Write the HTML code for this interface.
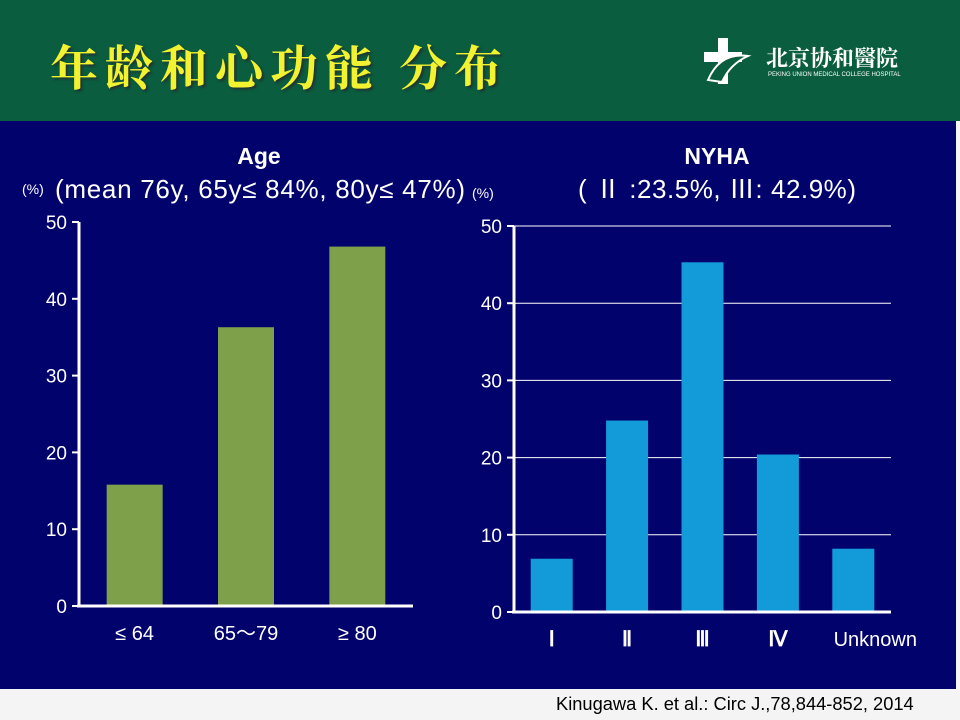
<!DOCTYPE html>
<html><head><meta charset="utf-8"><style>
body{margin:0;width:960px;height:720px;overflow:hidden;background:#f4f4f4;font-family:"Liberation Sans","Noto Sans CJK SC",sans-serif}
#hdr{position:absolute;left:0;top:0;width:960px;height:121px;background:#0a5d3f}
#title{position:absolute;left:50px;top:30px;font-family:"Noto Serif CJK SC","Noto Sans CJK SC",sans-serif;font-size:48px;font-weight:bold;color:#f2f230;letter-spacing:7px;text-shadow:2px 2px 2px #233}
#logo{position:absolute;left:700px;top:36px;color:#fff}
#main{position:absolute;left:0;top:121px;width:956px;height:568px;background:#02026c}
#cite{position:absolute;left:556px;top:693px;font-size:18.3px;color:#000}
</style></head><body>
<div id="hdr">
<div id="title">年龄和心功能 分布</div>
<div id="logo">
<svg width="60" height="50" style="position:absolute;left:0;top:0"><path d="M18 2h10v14h14v10H28v22H18V26H4V16h14z" fill="#fff"/><path d="M8 44 Q20 16 48 20 Q30 28 22 46z" fill="#0a5d3f" stroke="#fff" stroke-width="2"/></svg>
<div style="position:absolute;left:66px;top:6px;font-size:22px;font-weight:bold;white-space:nowrap;font-family:'Noto Serif CJK SC',serif">北京协和醫院</div>
<div style="position:absolute;left:68px;top:36px;font-size:6px;white-space:nowrap">PEKING UNION MEDICAL COLLEGE HOSPITAL</div>
</div></div>
<div id="main"></div>
<svg id="chart" width="960" height="720" style="position:absolute;left:0;top:0" font-family="Liberation Sans, Noto Sans CJK SC, sans-serif">
<text x="259" y="164" fill="#fff" font-size="23" font-weight="bold" text-anchor="middle">Age</text>
<text x="22" y="194" fill="#fff" font-size="14">(%)</text>
<text x="55" y="198" fill="#fff" font-size="26" textLength="410">(mean 76y, 65y≤ 84%, 80y≤ 47%)</text>
<text x="717" y="164" fill="#fff" font-size="23" font-weight="bold" text-anchor="middle">NYHA</text>
<text x="472" y="198" fill="#fff" font-size="14">(%)</text>
<text x="578" y="198" fill="#fff" font-size="26" textLength="278">( Ⅱ :23.5%,  Ⅲ: 42.9%)</text>
<g id="g1"></g><g id="g2"></g>
</svg>
<div id="cite">Kinugawa K. et al.: Circ J.,78,844-852, 2014</div>
<script>
const ageCats=["≤ 64","65～79","≥ 80"];
const ageVals=[15.8,36.3,46.8];
const nyhaCats=["Ⅰ","Ⅱ","Ⅲ","Ⅳ","Unknown"];
const nyhaVals=[6.9,24.8,45.3,20.4,8.2];
const yTicks=[0,10,20,30,40,50];
const NS="http://www.w3.org/2000/svg";
function mk(p,t,a){const e=document.createElementNS(NS,t);for(const k in a)e.setAttribute(k,a[k]);p.appendChild(e);return e;}
function chart(g,cats,vals,o){
 const y=v=>o.y0-(o.y0-o.y50)*v/50;
 const step=(o.x1-o.x0)/cats.length;
 yTicks.forEach(t=>{
  if(o.grid&&t>0){const l=mk(g,'line',{x1:o.x0,x2:o.x1,y1:y(t),y2:y(t),stroke:'#fff','stroke-width':1});
  }
  const tk=mk(g,'line',{x1:o.x0-7,x2:o.x0,y1:y(t),y2:y(t),stroke:'#fff','stroke-width':2});
  
  const tx=mk(g,'text',{x:o.x0-12,y:y(t)+7,fill:'#fff','font-size':19,'text-anchor':'end'});tx.textContent=t;
  
 });
 cats.forEach((c,i)=>{
  const cx=o.x0+step*(i+0.5)+(i==4?22:0);
  const r=mk(g,'rect',{x:o.x0+step*(i+0.5)-o.bw/2,y:y(vals[i]),width:o.bw,height:o.y0-y(vals[i]),fill:o.color});
  
  const rom=o.roman&&i<4;
  const tx=mk(g,'text',{x:cx,y:o.y0+34,fill:'#fff','font-size':rom?21:20,'font-weight':rom?'bold':'normal','text-anchor':'middle','font-family':rom?'Liberation Serif, serif':'Liberation Sans, sans-serif'});tx.textContent=c;
  
 });
 const ya=mk(g,'line',{x1:o.x0,x2:o.x0,y1:o.y50,y2:o.y0+1,stroke:'#fff','stroke-width':3});
 
 const xa=mk(g,'line',{x1:o.x0-2,x2:o.x1,y1:o.y0,y2:o.y0,stroke:'#fff','stroke-width':3});
 
}
chart(document.getElementById('g1'),ageCats,ageVals,{x0:79,x1:413,y0:606,y50:222,bw:56,color:'#7ea04a',grid:false});
chart(document.getElementById('g2'),nyhaCats,nyhaVals,{x0:514,x1:891,y0:612,y50:226,bw:42,color:'#139bd9',grid:true,roman:true});
</script>
</body></html>
